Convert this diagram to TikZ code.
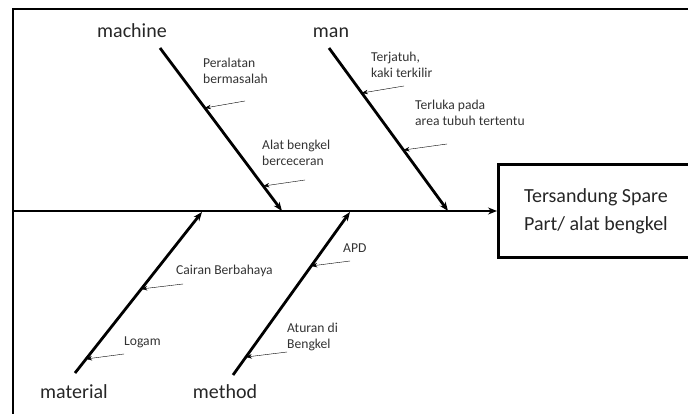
\documentclass[tikz,border=0pt]{standalone}
\usepackage{fontspec}
\setmainfont{Carlito}
\usetikzlibrary{arrows.meta,calc}
\definecolor{txt}{HTML}{262626}
\definecolor{subtxt}{HTML}{333333}
\definecolor{thin}{HTML}{808080}
\begin{document}
\begin{tikzpicture}[x=1pt,y=-1pt,
  frameline/.style={line width=2.6pt,black},
  bone/.style={line width=2.8pt,black,-{Stealth[length=9pt,width=7pt]}},
  subarrow/.style={line width=0.8pt,thin,-{Stealth[length=6pt,width=4.5pt,black]}},
  catlabel/.style={font=\fontsize{20}{24}\selectfont,text=txt,inner sep=0pt,anchor=base},
  sublabel/.style={font=\fontsize{13.6}{16.5}\selectfont,text=subtxt,inner sep=0pt,align=left,anchor=west},
  effectbox/.style={draw=black,line width=2.6pt,minimum width=193pt,minimum height=93pt,inner sep=0pt,anchor=west}]
\useasboundingbox (0,0) rectangle (688,414);
\clip (0,0) rectangle (688,414);
% frame
\coordinate (fl) at (13,9);
\draw[frameline] (13,430) -- (fl) -- (700,9);
% effect box
\node[effectbox] (effect) at (497,211) {};
\node[font=\fontsize{20}{28}\selectfont,text=txt,align=center,inner sep=0pt] (effecttext) at (596,211) {Tersandung Spare\\Part/ alat bengkel};
% spine
\coordinate (spinestart) at (12,211);
\draw[line width=2.8pt,-{Stealth[length=9pt,width=7pt]}] (spinestart) -- (effect.west);
% bone coordinates
\coordinate (mac1) at (160,48);  \coordinate (mac2) at (282,211);
\coordinate (man1) at (329,48);  \coordinate (man2) at (448,211);
\coordinate (mat1) at (75,373);  \coordinate (mat2) at (202,212);
\coordinate (met1) at (233,375); \coordinate (met2) at (350,212);
\draw[bone] (mac1) -- (mac2);
\draw[bone] (man1) -- (man2);
\draw[bone] (mat1) -- (mat2);
\draw[bone] (met1) -- (met2);
% category labels
\node[catlabel] (lmachine) at (132,38) {machine};
\node[catlabel] (lman) at (331,38) {man};
\node[catlabel] (lmaterial) at (74,398) {material};
\node[catlabel] (lmethod) at (225,398) {method};
% sub labels
\node[sublabel] (s1) at (203,71) {Peralatan\\bermasalah};
\node[sublabel] (s2) at (262,153) {Alat bengkel\\berceceran};
\node[sublabel] (s3) at (371,65) {Terjatuh,\\kaki terkilir};
\node[sublabel] (s4) at (415,113) {Terluka pada\\area tubuh tertentu};
\node[sublabel] (s5) at (176,271) {Cairan Berbahaya};
\node[sublabel] (s6) at (124,342) {Logam};
\node[sublabel] (s7) at (343,248) {APD};
\node[sublabel] (s8) at (287,337) {Aturan di\\Bengkel};
% sub arrow tails
\coordinate (t1) at (245,101); \coordinate (h1) at ($(mac1)!0.368!(mac2)$);
\coordinate (t2) at (305,180); \coordinate (h2) at ($(mac1)!0.847!(mac2)$);
\coordinate (t3) at (404,86);  \coordinate (h3) at ($(man1)!0.276!(man2)$);
\coordinate (t4) at (447,144); \coordinate (h4) at ($(man1)!0.626!(man2)$);
\coordinate (t5) at (183,284); \coordinate (h5) at ($(mat1)!0.522!(mat2)$);
\coordinate (t6) at (124,354); \coordinate (h6) at ($(mat1)!0.087!(mat2)$);
\coordinate (t7) at (350,261); \coordinate (h7) at ($(met1)!0.669!(met2)$);
\coordinate (t8) at (287,352); \coordinate (h8) at ($(met1)!0.11!(met2)$);
\foreach \i in {1,...,8} {\draw[subarrow] (t\i) -- (h\i);}
\end{tikzpicture}
\end{document}
